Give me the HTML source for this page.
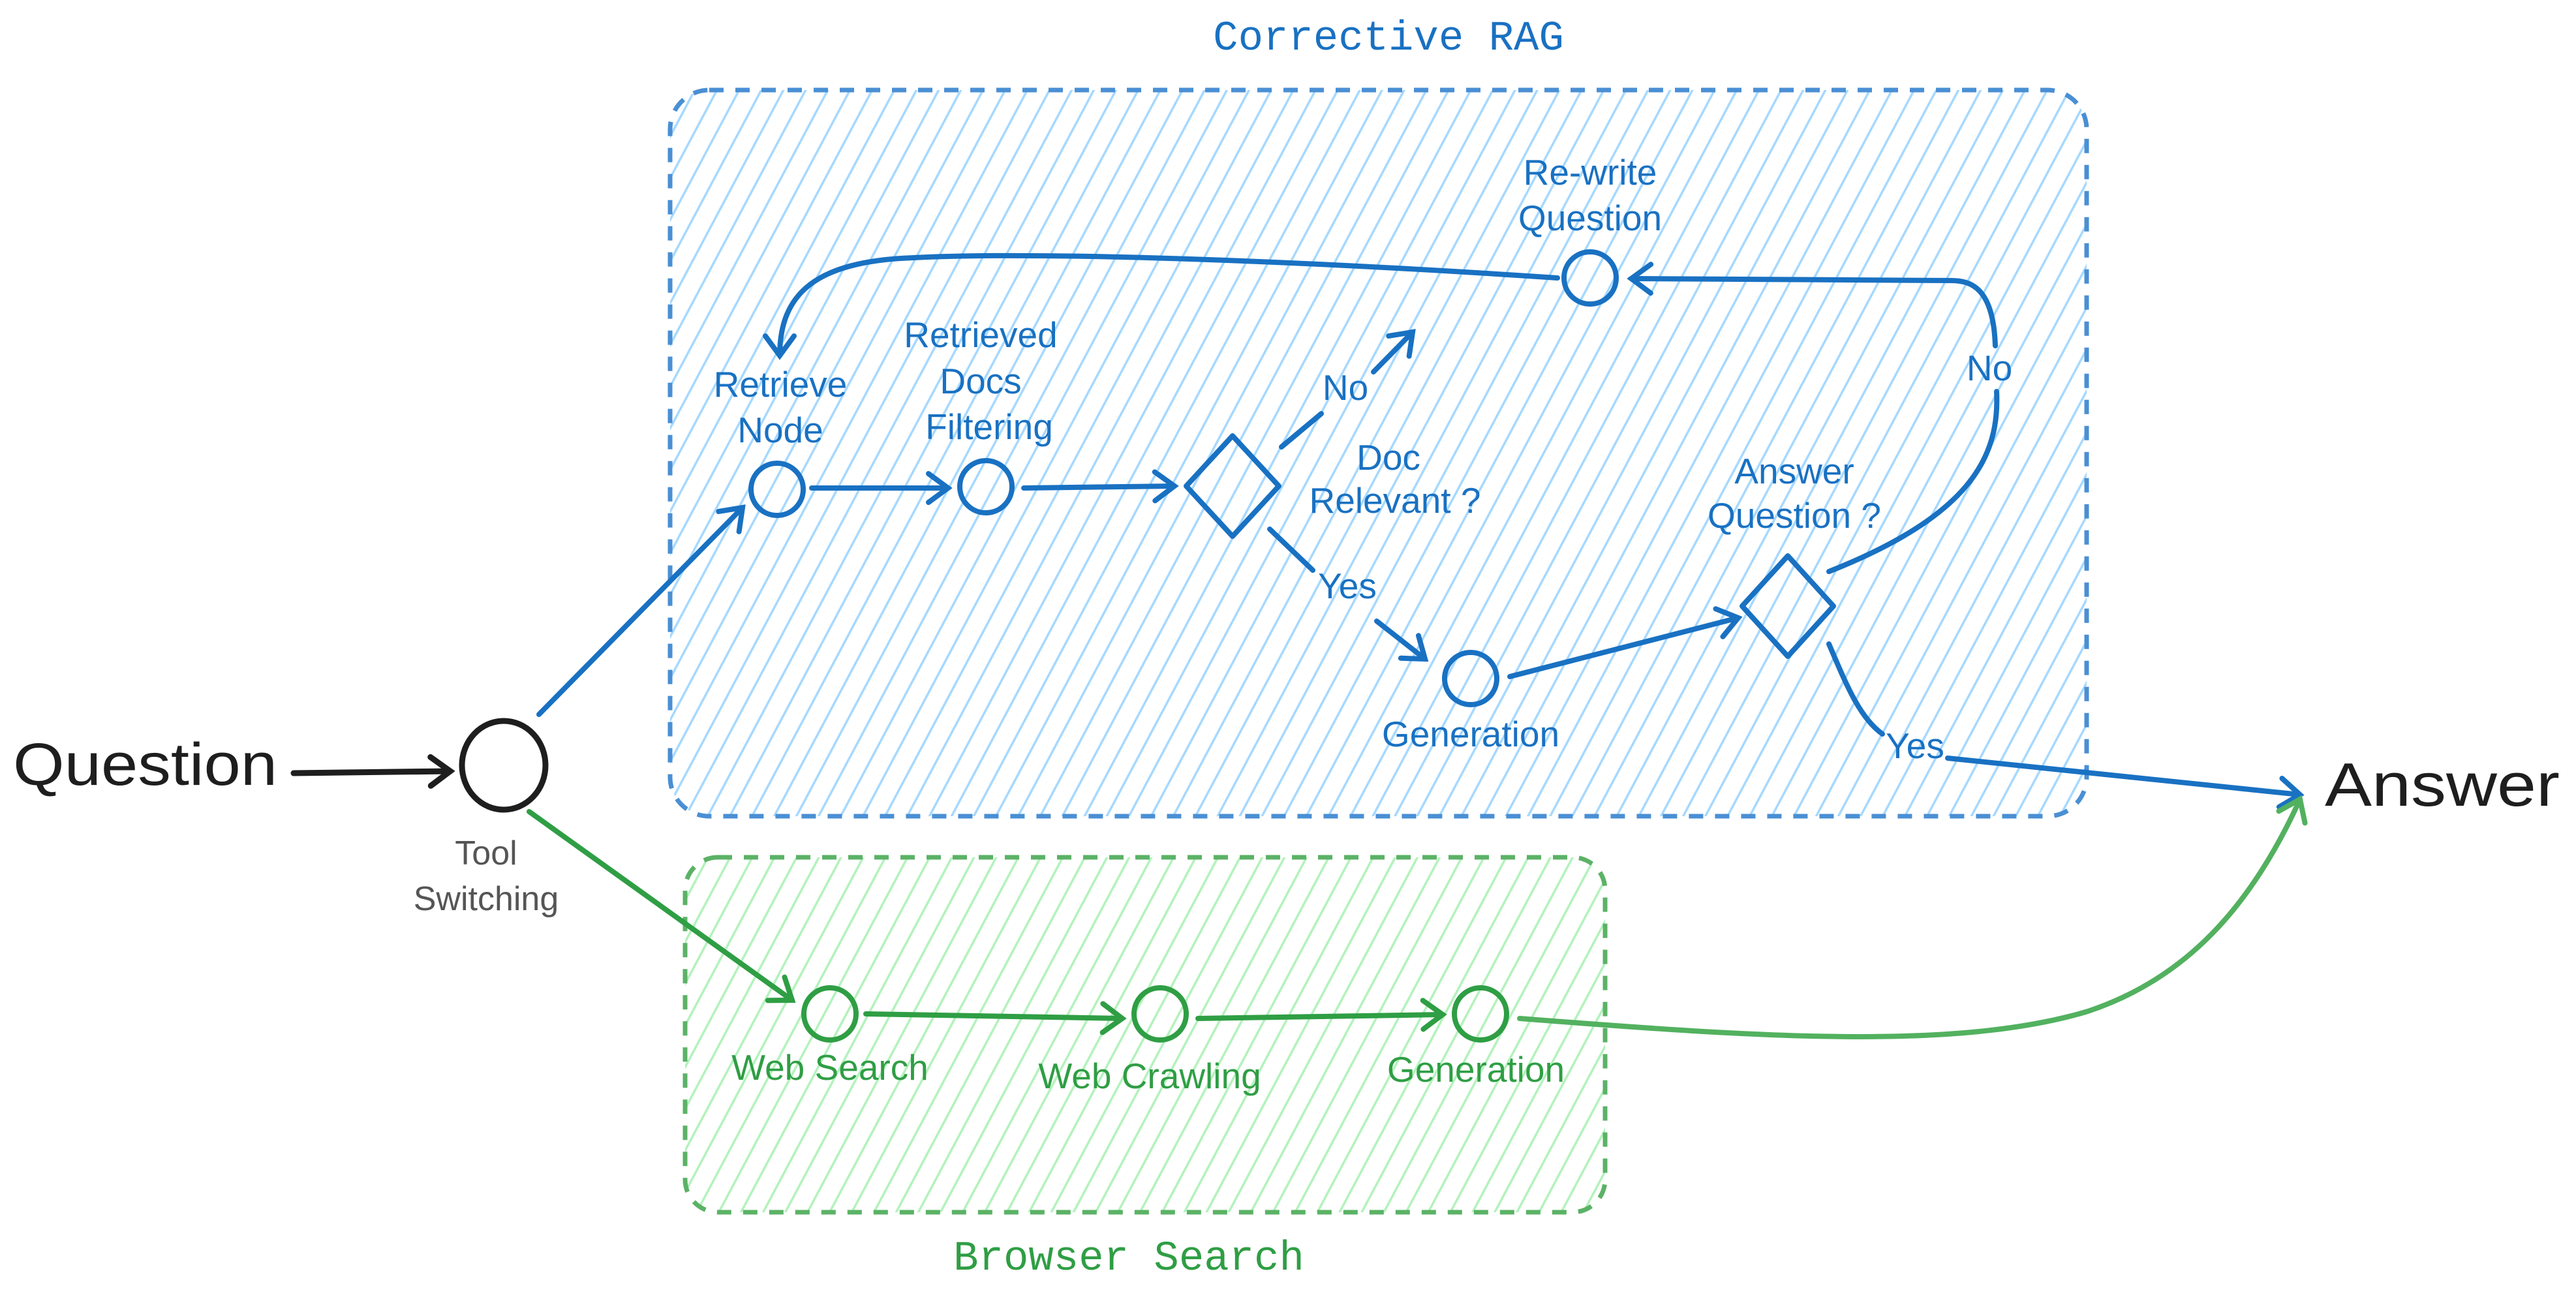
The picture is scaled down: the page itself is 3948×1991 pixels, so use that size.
<!DOCTYPE html>
<html><head><meta charset="utf-8"><style>
html,body{margin:0;padding:0;background:#fff;}
svg{display:block;}
text{font-family:"Liberation Sans",sans-serif;}
</style></head><body>
<svg width="3948" height="1991" viewBox="0 0 3948 1991" xmlns="http://www.w3.org/2000/svg">
<defs>
<pattern id="hb" width="30" height="30" patternUnits="userSpaceOnUse" patternTransform="rotate(28)">
<line x1="15" y1="0" x2="15" y2="30" stroke="#a5d8ff" stroke-width="3.5"/></pattern>
<pattern id="hg" width="30" height="30" patternUnits="userSpaceOnUse" patternTransform="rotate(28)">
<line x1="15" y1="0" x2="15" y2="30" stroke="#b2f2bb" stroke-width="3.5"/></pattern>
<marker id="ab" markerUnits="userSpaceOnUse" markerWidth="80" markerHeight="80" refX="40" refY="40" orient="auto"><path d="M10,18 L40,40 L10,62" fill="none" stroke="#1971c2" stroke-width="8" stroke-linecap="round"/></marker>
<marker id="ag" markerUnits="userSpaceOnUse" markerWidth="80" markerHeight="80" refX="40" refY="40" orient="auto"><path d="M10,18 L40,40 L10,62" fill="none" stroke="#2f9e44" stroke-width="8" stroke-linecap="round"/></marker>
<marker id="ag2" markerUnits="userSpaceOnUse" markerWidth="80" markerHeight="80" refX="40" refY="40" orient="auto"><path d="M10,18 L40,40 L10,62" fill="none" stroke="#52b15f" stroke-width="8" stroke-linecap="round"/></marker>
<marker id="ak" markerUnits="userSpaceOnUse" markerWidth="80" markerHeight="80" refX="40" refY="40" orient="auto"><path d="M10,18 L40,40 L10,62" fill="none" stroke="#1e1e1e" stroke-width="9" stroke-linecap="round"/></marker>
</defs>

<rect x="1027" y="138" width="2171" height="1113" rx="60" fill="url(#hb)" stroke="#4a8fd4" stroke-width="7" stroke-dasharray="22 18"/>
<rect x="1050" y="1314" width="1410" height="544" rx="50" fill="url(#hg)" stroke="#5bb266" stroke-width="7" stroke-dasharray="22 18"/>

<text x="2128" y="76" font-size="64" fill="#1971c2" text-anchor="middle" style="font-family:'Liberation Mono',monospace">Corrective RAG</text>
<text x="1730" y="1946" font-size="64" fill="#2f9e44" text-anchor="middle" style="font-family:'Liberation Mono',monospace">Browser Search</text>

<text x="20" y="1203" font-size="92" fill="#1e1e1e" textLength="405" lengthAdjust="spacingAndGlyphs">Question</text>
<line x1="450" y1="1185" x2="690" y2="1182" stroke="#1e1e1e" stroke-width="9" stroke-linecap="round" marker-end="url(#ak)"/>
<ellipse cx="772" cy="1173" rx="64" ry="68" fill="none" stroke="#1e1e1e" stroke-width="9"/>
<text x="745" y="1325" font-size="52" fill="#555" text-anchor="middle">Tool</text>
<text x="745" y="1395" font-size="52" fill="#555" text-anchor="middle">Switching</text>
<text x="3563" y="1235" font-size="94" fill="#1e1e1e" textLength="360" lengthAdjust="spacingAndGlyphs">Answer</text>

<g fill="none" stroke="#1971c2" stroke-width="8" stroke-linecap="round">
<circle cx="1191" cy="750" r="40"/>
<circle cx="1511" cy="746" r="40"/>
<circle cx="2254" cy="1040" r="40"/>
<circle cx="2437" cy="426" r="40"/>
<path d="M1889,668 L1960,745 L1889,822 L1818,745 Z" stroke-linejoin="round"/>
<path d="M2740,852 L2810,929 L2740,1006 L2670,929 Z" stroke-linejoin="round"/>
<line x1="826" y1="1095" x2="1138" y2="778" marker-end="url(#ab)"/>
<line x1="1244" y1="748" x2="1453" y2="748" marker-end="url(#ab)"/>
<line x1="1569" y1="748" x2="1800" y2="745" marker-end="url(#ab)"/>
<line x1="1964" y1="685" x2="2025" y2="634"/>
<line x1="2105" y1="570" x2="2165" y2="509" marker-end="url(#ab)"/>
<line x1="1946" y1="811" x2="2012" y2="874"/>
<line x1="2110" y1="952" x2="2184" y2="1010" marker-end="url(#ab)"/>
<line x1="2314" y1="1037" x2="2664" y2="947" marker-end="url(#ab)"/>
<path d="M2803,876 C3020,790 3065,700 3060,600 M3058,530 C3055,440 3020,430 2990,430 L2500,427" marker-end="url(#ab)"/>
<path d="M2387,426 C2000,400 1600,385 1400,395 C1250,400 1195,450 1195,545" marker-end="url(#ab)"/>
<path d="M2803,987 C2830,1050 2850,1100 2885,1125"/>
<path d="M2985,1162 L3525,1218" marker-end="url(#ab)"/>
</g>

<g font-size="55" fill="#1971c2" text-anchor="middle">
<text x="1196" y="608">Retrieve</text><text x="1196" y="678">Node</text>
<text x="1503" y="532">Retrieved</text><text x="1503" y="603">Docs</text><text x="1516" y="673">Filtering</text>
<text x="2128" y="720">Doc</text><text x="2138" y="786">Relevant ?</text>
<text x="2062" y="613">No</text>
<text x="2065" y="917">Yes</text>
<text x="2254" y="1144">Generation</text>
<text x="2750" y="741">Answer</text><text x="2750" y="809">Question ?</text>
<text x="2437" y="283">Re-write</text><text x="2437" y="353">Question</text>
<text x="3049" y="583">No</text>
<text x="2935" y="1162">Yes</text>
</g>

<g fill="none" stroke="#2f9e44" stroke-width="8" stroke-linecap="round">
<circle cx="1272" cy="1554" r="40"/>
<circle cx="1778" cy="1554" r="40"/>
<circle cx="2269" cy="1554" r="40"/>
<line x1="811" y1="1244" x2="1214" y2="1533" marker-end="url(#ag)"/>
<line x1="1327" y1="1554" x2="1720" y2="1561" marker-end="url(#ag)"/>
<line x1="1836" y1="1561" x2="2211" y2="1555" marker-end="url(#ag)"/>
<path d="M2329,1561 C2700,1590 3000,1610 3200,1550 C3350,1500 3450,1390 3525,1225" stroke="#52b15f" marker-end="url(#ag2)"/>
</g>
<g font-size="55" fill="#2f9e44" text-anchor="middle">
<text x="1272" y="1655">Web Search</text>
<text x="1762" y="1668">Web Crawling</text>
<text x="2262" y="1658">Generation</text>
</g>
</svg>
</body></html>
